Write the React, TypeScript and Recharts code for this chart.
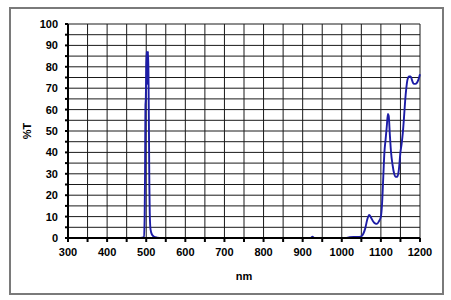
import React from 'react';
import { LineChart, Line, XAxis, YAxis, CartesianGrid } from 'recharts';

const wavelengths: number[] = [
  300, 480, 490, 494, 496, 497, 498, 499, 500, 501, 502, 503, 504, 505, 506, 507, 508, 509, 511, 515, 520, 528, 540,
  900, 920, 925, 930, 1010, 1020, 1040, 1050, 1055, 1060, 1065, 1070, 1075, 1080, 1085, 1090, 1095, 1100,
  1103, 1106, 1109, 1112, 1115, 1118, 1120, 1123, 1126, 1130, 1134, 1138, 1142, 1146, 1150, 1153, 1156,
  1159, 1162, 1165, 1168, 1172, 1176, 1180, 1184, 1188, 1192, 1196, 1200,
];
const transmission: number[] = [
  0, 0, 0.2, 0.5, 10, 30, 62, 65, 80, 87, 86, 72, 86, 87, 72, 50, 25, 12, 4, 1.5, 0.6, 0.2, 0,
  0, 0, 0.6, 0, 0, 0.4, 0.5, 0.8, 2, 4.5, 8.5, 10.8, 9.5, 7.8, 6.8, 6.6, 7.8, 10,
  16, 28, 40, 46, 52, 58, 57, 48, 40, 34, 30, 28.6, 28.6, 32, 40, 44, 49,
  56, 64, 70, 74, 75.5, 75.5, 73.5, 72, 72, 72.5, 74, 76.5,
];
const xTicks: number[] = [300, 350, 400, 450, 500, 550, 600, 650, 700, 750, 800, 850, 900, 950, 1000, 1050, 1100, 1150, 1200];
const yTicks: number[] = [0, 5, 10, 15, 20, 25, 30, 35, 40, 45, 50, 55, 60, 65, 70, 75, 80, 85, 90, 95, 100];

const data = wavelengths.map((nm, i) => ({ nm, t: transmission[i] }));

const FONT = '"Liberation Sans", Arial, sans-serif';
const tickStyle = { fontFamily: FONT, fontSize: 11, fontWeight: 700, fill: '#000' };

export default function App() {
  return (
    <div style={{ position: 'absolute', left: 0, top: 0, width: 451, height: 300, background: '#fff' }}>
      <div
        style={{
          position: 'absolute',
          left: 9,
          top: 7,
          width: 431,
          height: 284,
          border: '2px solid #7a7a7a',
          pointerEvents: 'none',
        }}
      />
      <LineChart width={451} height={300} data={data} margin={{ top: 24, right: 31, left: 0, bottom: 0 }}>
        <CartesianGrid
          stroke="#1a1a1a"
          strokeWidth={1}
          horizontalValues={yTicks}
          verticalValues={xTicks}
        />
        <XAxis
          dataKey="nm"
          type="number"
          domain={[300, 1200]}
          ticks={xTicks}
          interval={0}
          height={62}
          tickSize={4}
          tickMargin={6}
          tickFormatter={(v: number) => (v % 100 === 0 ? String(v) : '')}
          tick={tickStyle}
          axisLine={{ stroke: '#000', strokeWidth: 2 }}
          tickLine={{ stroke: '#000', strokeWidth: 2 }}
          label={{ value: 'nm', position: 'center', dy: 7, style: tickStyle }}
        />
        <YAxis
          type="number"
          domain={[0, 100]}
          ticks={yTicks}
          interval={0}
          width={68}
          tickSize={3}
          tickMargin={7}
          tickFormatter={(v: number) => (v % 10 === 0 ? String(v) : '')}
          tick={tickStyle}
          axisLine={{ stroke: '#000', strokeWidth: 2 }}
          tickLine={{ stroke: '#000', strokeWidth: 2 }}
          label={{ value: '%T', angle: -90, position: 'center', dx: -7, style: tickStyle }}
        />
        <Line
          dataKey="t"
          type="monotone"
          stroke="#1c1ca6"
          strokeWidth={1.9}
          dot={false}
          isAnimationActive={false}
        />
      </LineChart>
    </div>
  );
}
